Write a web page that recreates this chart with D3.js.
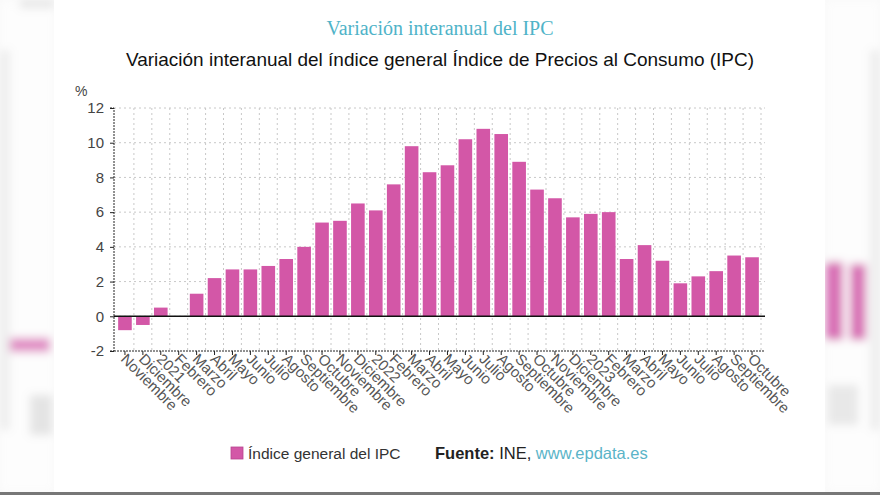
<!DOCTYPE html>
<html><head><meta charset="utf-8">
<script src="https://cdn.jsdelivr.net/npm/d3@7"></script>
<style>body{margin:0;background:#fff}svg{display:block}</style>
</head><body>
<script>
const categories = ["Noviembre","Diciembre","2021","Febrero","Marzo","Abril","Mayo","Junio","Julio","Agosto","Septiembre","Octubre","Noviembre","Diciembre","2022","Febrero","Marzo","Abril","Mayo","Junio","Julio","Agosto","Septiembre","Octubre","Noviembre","Diciembre","2023","Febrero","Marzo","Abril","Mayo","Junio","Julio","Agosto","Septiembre","Octubre"];
const ipcValues = [-0.8,-0.5,0.5,0.0,1.3,2.2,2.7,2.7,2.9,3.3,4.0,5.4,5.5,6.5,6.1,7.6,9.8,8.3,8.7,10.2,10.8,10.5,8.9,7.3,6.8,5.7,5.9,6.0,3.3,4.1,3.2,1.9,2.3,2.6,3.5,3.4];
const yTicks = [-2,0,2,4,6,8,10,12];
const seriesName = "Índice general del IPC";

const W = 880, H = 495;
const svg = d3.select("body").append("svg").attr("width", W).attr("height", H);
const defs = svg.append("defs");
defs.append("filter").attr("id","blur").attr("x","-50%").attr("y","-50%").attr("width","200%").attr("height","200%")
  .append("feGaussianBlur").attr("stdDeviation", 4);

// outer blurred background
svg.append("rect").attr("width", W).attr("height", H).attr("fill", "#f9f9f9");
const bg = svg.append("g").attr("filter","url(#blur)");
bg.append("rect").attr("x",0).attr("y",0).attr("width",54).attr("height",492).attr("fill","#fdfdfd");
bg.append("rect").attr("x",826).attr("y",0).attr("width",54).attr("height",492).attr("fill","#fdfdfd");
bg.append("rect").attr("x",20).attr("y",0).attr("width",34).attr("height",8).attr("fill","#e6e6e6");
bg.append("rect").attr("x",8).attr("y",338).attr("width",42).attr("height",14).attr("fill","#e08cc4");
bg.append("rect").attr("x",826).attr("y",262).attr("width",17).attr("height",78).attr("fill","#d870b5");
bg.append("rect").attr("x",850).attr("y",264).attr("width",16).attr("height",76).attr("fill","#d870b5");
bg.append("rect").attr("x",0).attr("y",50).attr("width",10).attr("height",380).attr("fill","#eeeeee");
bg.append("rect").attr("x",870).attr("y",50).attr("width",10).attr("height",380).attr("fill","#eeeeee");
bg.append("rect").attr("x",30).attr("y",395).attr("width",22).attr("height",40).attr("fill","#e4e4e4");
bg.append("rect").attr("x",828).attr("y",385).attr("width",30).attr("height",40).attr("fill","#e8e8e8");

// white card
svg.append("rect").attr("x",54).attr("y",0).attr("width",771).attr("height",492).attr("fill","#ffffff");
svg.append("rect").attr("x",0).attr("y",492).attr("width",W).attr("height",3).attr("fill","#777");

// titles
svg.append("text").attr("x",440).attr("y",35).attr("text-anchor","middle")
  .attr("font-family","'Liberation Serif', 'DejaVu Serif', serif").attr("font-size",20)
  .attr("fill","#4fb3c8").text("Variación interanual del IPC");
svg.append("text").attr("x",440).attr("y",66).attr("text-anchor","middle")
  .attr("font-family","'Liberation Sans', Arial, sans-serif").attr("font-size",18.5)
  .attr("textLength",628).attr("lengthAdjust","spacingAndGlyphs")
  .attr("fill","#111").text("Variación interanual del índice general Índice de Precios al Consumo (IPC)");

const x0 = 114, x1 = 765, yTop = 108, yBot = 351;
const x = d3.scaleBand().domain(d3.range(categories.length)).range([116, 761]).paddingInner(0.24).paddingOuter(0.12);
const y = d3.scaleLinear().domain([-2, 12]).range([yBot, yTop]);

const grid = svg.append("g");
grid.selectAll("line.h").data(yTicks.filter(d => d !== -2)).join("line")
  .attr("x1", x0).attr("x2", x1).attr("y1", d => y(d)).attr("y2", d => y(d))
  .attr("stroke", "#c8c8c8").attr("stroke-dasharray","2,3").attr("stroke-width",1);
const step = x.step();
const vgrid = d3.range(categories.length).map(i => x(i) + x.bandwidth() + (step - x.bandwidth())/2);
grid.selectAll("line.v").data(vgrid).join("line")
  .attr("x1", d => d).attr("x2", d => d).attr("y1", yTop).attr("y2", yBot)
  .attr("stroke", "#c8c8c8").attr("stroke-dasharray","2,3").attr("stroke-width",1);

// bars
svg.append("g").selectAll("rect").data(ipcValues).join("rect")
  .attr("x", (d,i) => x(i)).attr("width", x.bandwidth())
  .attr("y", d => y(Math.max(0,d))).attr("height", d => Math.abs(y(d) - y(0)))
  .attr("fill", "#d357a7");

svg.append("line").attr("x1",x0).attr("x2",x1).attr("y1",y(0)).attr("y2",y(0)).attr("stroke","#111").attr("stroke-width",1.5);

// y axis
const yAxis = d3.axisLeft(y).tickValues(yTicks).tickFormat(d => String(d)).tickSize(4).tickPadding(6);
const gy = svg.append("g").attr("transform",`translate(${x0},0)`).call(yAxis);
gy.select(".domain").attr("stroke","#222").attr("stroke-dasharray","2,1").attr("d",`M-4,${yTop}H0V${yBot}H-4`);
gy.selectAll(".tick line").attr("stroke","#222");
gy.selectAll("text").attr("font-family","'Liberation Sans', Arial, sans-serif").attr("font-size",15).attr("fill","#444");
svg.append("text").attr("x",75).attr("y",96).attr("font-family","'Liberation Sans', Arial, sans-serif").attr("font-size",14).attr("fill","#444").text("%");

// x axis
const xAxis = d3.axisBottom(x).tickFormat(i => categories[i]).tickSize(4).tickPadding(4);
const gx = svg.append("g").attr("transform",`translate(0,${yBot})`).call(xAxis);
gx.select(".domain").attr("stroke","#222").attr("stroke-dasharray","2,1").attr("d",`M${x0},0H${x1}`);
gx.selectAll(".tick line").attr("stroke","#222");
gx.selectAll("text").attr("font-family","'Liberation Sans', Arial, sans-serif").attr("font-size",15).attr("fill","#555")
  .attr("text-anchor","start").attr("dy",0).attr("y",0)
  .attr("transform","translate(-5,9) rotate(45)");

// legend
const lg = svg.append("g");
lg.append("rect").attr("x",231).attr("y",447).attr("width",12).attr("height",12).attr("fill","#d357a7").attr("stroke","#b84590").attr("stroke-width",0.8);
lg.append("text").attr("x",248).attr("y",459).attr("font-family","'Liberation Sans', Arial, sans-serif").attr("font-size",15.5).attr("fill","#333").text(seriesName);
const src = lg.append("text").attr("x",435).attr("y",459).attr("font-family","'Liberation Sans', Arial, sans-serif").attr("font-size",16.5).attr("fill","#222");
src.append("tspan").attr("font-weight","bold").text("Fuente:");
src.append("tspan").text(" INE, ");
src.append("tspan").attr("fill","#5ab4c8").text("www.epdata.es");
</script>
</body></html>
